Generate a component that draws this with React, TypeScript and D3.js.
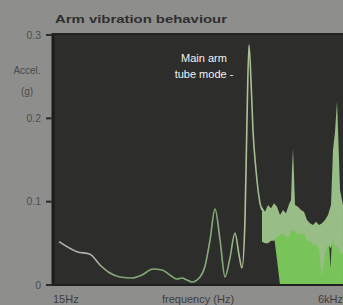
import { useMemo } from "react";
import * as d3 from "d3";

const W = 343;
const H = 305;
const PLOT = { left: 55, right: 345, top: 33, bottom: 285 };

// main response curve (Hz, g)
const mainFreq = [16.3, 23.6, 30.9, 38, 46.7, 57.4, 73.6, 90.5, 113.6, 136.8, 161, 186.6, 207, 229, 254, 300, 333, 369, 409, 454, 503, 557, 618, 672, 714, 760, 792, 825, 860, 896, 954, 1036, 1080];
const mainAccel = [0.052, 0.04, 0.037, 0.024, 0.0144, 0.0096, 0.0084, 0.012, 0.0192, 0.018, 0.012, 0.0072, 0.0084, 0.006, 0.0036, 0.0096, 0.0228, 0.054, 0.0912, 0.054, 0.0096, 0.0324, 0.0624, 0.036, 0.0204, 0.078, 0.198, 0.288, 0.246, 0.186, 0.138, 0.0984, 0.09];

// high frequency noise band: pale upper envelope
const noiseFreq = [1080, 1149, 1223, 1301, 1384, 1473, 1567, 1667, 1773, 1887, 1967, 2007, 2049, 2092, 2136, 2272, 2417, 2571, 2736, 2911, 3097, 3295, 3506, 3730, 3969, 4223, 4493, 4683, 4881, 5088, 5195, 5414, 5754];
const noiseTop = [0.094, 0.088, 0.096, 0.092, 0.098, 0.094, 0.084, 0.09, 0.086, 0.097, 0.102, 0.138, 0.164, 0.132, 0.096, 0.094, 0.09, 0.088, 0.078, 0.074, 0.072, 0.076, 0.072, 0.074, 0.078, 0.084, 0.096, 0.162, 0.184, 0.221, 0.186, 0.114, 0.096];
// bright lower band
const brightFreq = [1080, 1223, 1384, 1473, 1567, 1720, 1927, 2136, 2390, 2680, 3000, 3360, 3650, 3760, 3880, 4000, 4300, 4450, 4560, 4680, 4800, 5250, 5754];
const brightTop = [0.058, 0.056, 0.059, 0.064, 0.066, 0.068, 0.064, 0.071, 0.066, 0.068, 0.059, 0.054, 0.049, 0.015, 0.048, 0.044, 0.054, 0.02, 0.05, 0.058, 0.06, 0.052, 0.044];
const brightBase = [0.058, 0.056, 0.059, 0.03, 0, 0, 0, 0, 0, 0, 0, 0, 0, 0, 0, 0, 0, 0, 0, 0, 0, 0, 0];

const yTicks = [0, 0.1, 0.2, 0.3];
const yTickLabels = ["0", "0.1", "0.2", "0.3"];

export default function App() {
  const x = useMemo(() => d3.scaleLog().domain([15, 6000]).range([PLOT.left, PLOT.right]), []);
  const y = useMemo(() => d3.scaleLinear().domain([0, 0.3]).range([PLOT.bottom, 35]), []);

  const mainPath = d3
    .line<number>()
    .x((_, i) => x(mainFreq[i]))
    .y((d) => y(d))
    .curve(d3.curveMonotoneX)(mainAccel);

  // pale band sits on top of the bright band
  const paleArea = d3
    .area<number>()
    .x((_, i) => x(noiseFreq[i]))
    .y0((_, i) => {
      const f = noiseFreq[i];
      let j = brightFreq.findIndex((b) => b >= f);
      if (j < 0) j = brightFreq.length - 1;
      return y(brightTop[j] - 0.006);
    })
    .y1((d) => y(d))(noiseTop);

  const brightArea = d3
    .area<number>()
    .x((_, i) => x(brightFreq[i]))
    .y0((_, i) => y(brightBase[i]))
    .y1((d) => y(d))(brightTop);

  const font = "'Liberation Sans', 'DejaVu Sans', sans-serif";

  return (
    <svg width={W} height={H} style={{ position: "absolute", left: 0, top: 0 }} fontFamily={font}>
      <defs>
        <linearGradient id="lineGrad" gradientUnits="userSpaceOnUse" x1={PLOT.left} x2={PLOT.right} y1={0} y2={0}>
          <stop offset="0" stopColor="#b4b5b0" />
          <stop offset="0.14" stopColor="#a8b3a0" />
          <stop offset="0.22" stopColor="#7fa874" />
          <stop offset="0.6" stopColor="#86ad79" />
          <stop offset="0.65" stopColor="#b4c29a" />
          <stop offset="0.7" stopColor="#9cbd8c" />
          <stop offset="1" stopColor="#9cbd8c" />
        </linearGradient>
      </defs>
      <rect width={W} height={H} fill="#8e8e8d" />
      <rect x={PLOT.left - 2} y={PLOT.top} width={W - PLOT.left + 2} height={PLOT.bottom - PLOT.top} fill="#2d2d2b" />
      <line x1={PLOT.left - 2} x2={W} y1={PLOT.top + 1} y2={PLOT.top + 1} stroke="#232322" strokeWidth={2} />

      <text x={55} y={23} fontSize={11.5} fontWeight="bold" fill="#2f2f2f" textLength={172} lengthAdjust="spacingAndGlyphs">
        Arm vibration behaviour
      </text>

      {/* noise band */}
      <path d={brightArea ?? ""} fill="#79c45a" />
      <path d={paleArea ?? ""} fill="#98bd86" />

      <path d={mainPath ?? ""} fill="none" stroke="url(#lineGrad)" strokeWidth={1.6} />

      <text x={204} y={62} fontSize={11} fill="#f2f2f2" textAnchor="middle">Main arm</text>
      <text x={204} y={78} fontSize={11} fill="#f2f2f2" textAnchor="middle">tube mode -</text>

      {/* axes */}
      <line x1={PLOT.left - 2} x2={PLOT.left - 2} y1={PLOT.top} y2={PLOT.bottom + 1} stroke="#1c1c1c" strokeWidth={3} />
      <line x1={PLOT.left - 2} x2={W} y1={PLOT.bottom} y2={PLOT.bottom} stroke="#1f1f1f" strokeWidth={2} />
      {yTicks.map((t, i) => (
        <g key={t}>
          <line x1={46} x2={PLOT.left - 2} y1={y(t)} y2={y(t)} stroke="#2a2a2a" strokeWidth={2} />
          <text x={41} y={y(t)} dy="0.35em" fontSize={10.5} fill="#4e4e4e" textAnchor="end">
            {yTickLabels[i]}
          </text>
        </g>
      ))}
      <text x={27} y={74} fontSize={10} fill="#4a4a4a" textAnchor="middle">Accel.</text>
      <text x={27} y={95} fontSize={10} fill="#4a4a4a" textAnchor="middle">(g)</text>

      <text x={53} y={303} fontSize={11} fill="#3e3e3e">15Hz</text>
      <text x={198} y={303} fontSize={11} fill="#3e3e3e" textAnchor="middle">frequency (Hz)</text>
      <text x={343} y={303} fontSize={11} fill="#3e3e3e" textAnchor="end">6kHz</text>
    </svg>
  );
}
